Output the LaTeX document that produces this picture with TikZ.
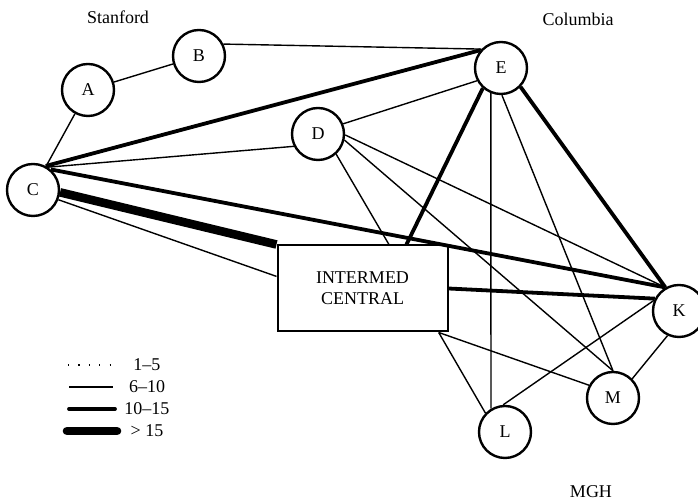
\documentclass[tikz,border=0pt]{standalone}
\usepackage{fontspec}
\setmainfont{Liberation Serif}
\begin{document}
\begin{tikzpicture}[x=0.5pt,y=-0.5pt,
  site/.style={circle,draw,line width=1.2pt,minimum size=26pt,inner sep=0pt,font=\fontsize{9}{10}\selectfont},
  hub/.style={draw,line width=1pt,minimum width=85pt,minimum height=43pt,align=center,inner sep=0pt,font=\fontsize{9}{10.5}\selectfont},
  lbl/.style={font=\fontsize{9}{10}\selectfont,inner sep=0pt},
  wdot/.style={line width=0.6pt,dash pattern=on 0.6pt off 4.6pt},
  wthin/.style={line width=0.7pt},
  wthick/.style={line width=1.9pt},
  wheavy/.style={line width=4.3pt},
  ]
\useasboundingbox (0,0) rectangle (698,501);

% site labels
\node[lbl] (stanford) at (118,17) {Stanford};
\node[lbl] (columbia) at (578,19) {Columbia};
\node[lbl] (mgh) at (591,492) {MGH};

% nodes
\node[site] (A) at (88,90) {A};
\node[site] (B) at (199,56) {B};
\node[site] (C) at (33,190) {C};
\node[site] (D) at (318,134) {D};
\node[site] (E) at (501,68) {E};
\node[site] (K) at (679,311) {K};
\node[site] (M) at (613,398) {M};
\node[site] (L) at (505,432) {L};
\node[hub] (box) at (362.5,288.5) {INTERMED\\CENTRAL};

% connectors
\draw[wthin] (A) -- (B);
\draw[wthin] (A) -- (C);
\draw[wthin] (B.26) -- (E.136);
\draw[wthick] (C.62) -- (E.139);
\draw[wthin] (C.57) -- (D.207);
\draw[wthick] (C.49) -- (K.120);
\draw[wheavy] (C.-5) -- (box.north west);
\draw[wthin] (C.-21) -- (box.172.3);
\draw[wthin] (D.22) -- (E.208);
\draw[wthin] (D.-48) -- (box.59.6);
\draw[wthin] (D.-2) -- (K.120);
\draw[wthin] (D.-13) -- (M.90);
\draw[wthick] (E.228) -- (box.45.7);
\draw[wthick] (E.-44) -- (K.120);
\draw[wthin] (E.-112) -- (L.121);
\draw[wthin] (E.-88) -- (M.90);
\draw[wthick] (box.east) -- (K.153);
\draw[wthin] (box.-30) -- (L.136);
\draw[wthin] (box.-30) -- (M.152);
\draw[wthin] (L.94) -- (K.157);
\draw[wthin] (M.45) -- (K.-115);

% legend
\draw[wdot] (68,365) -- (114,365);
\draw[wthin] (69,387) -- (113,387);
\draw[wthick,line cap=round] (69,409) -- (115,409);
\draw[wheavy,line cap=round] (67,431) -- (117,431);
\node[lbl] (l1) at (147,365) {1--5};
\node[lbl] (l2) at (147,387) {6--10};
\node[lbl] (l3) at (147,409) {10--15};
\node[lbl] (l4) at (147,431) {> 15};
\end{tikzpicture}
\end{document}
